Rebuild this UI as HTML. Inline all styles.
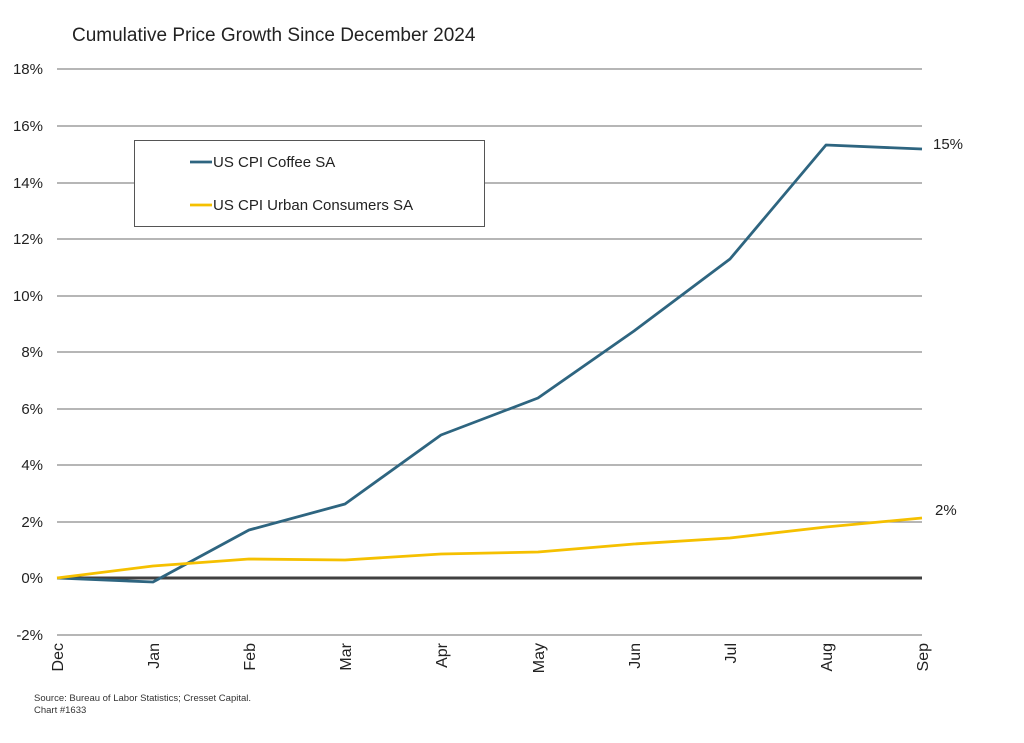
<!DOCTYPE html>
<html><head><meta charset="utf-8"><style>
html,body{margin:0;padding:0;background:#fff;}
svg{display:block;font-family:"Liberation Sans",sans-serif;}
</style></head><body>
<svg width="1024" height="743" viewBox="0 0 1024 743">
<rect width="1024" height="743" fill="#fff"/>
<text x="72" y="41" font-size="19" fill="#222">Cumulative Price Growth Since December 2024</text>
<g stroke="#8a8a8a" stroke-width="1.3">
<line x1="57" x2="922" y1="69" y2="69"/>
<line x1="57" x2="922" y1="126" y2="126"/>
<line x1="57" x2="922" y1="183" y2="183"/>
<line x1="57" x2="922" y1="239" y2="239"/>
<line x1="57" x2="922" y1="296" y2="296"/>
<line x1="57" x2="922" y1="352" y2="352"/>
<line x1="57" x2="922" y1="409" y2="409"/>
<line x1="57" x2="922" y1="465" y2="465"/>
<line x1="57" x2="922" y1="522" y2="522"/>
<line x1="57" x2="922" y1="635" y2="635"/>
</g>
<line x1="57" x2="922" y1="578" y2="578" stroke="#404040" stroke-width="3"/>
<g font-size="15" fill="#222" text-anchor="end">
<text x="43" y="74">18%</text><text x="43" y="131">16%</text><text x="43" y="188">14%</text>
<text x="43" y="244">12%</text><text x="43" y="301">10%</text><text x="43" y="357">8%</text>
<text x="43" y="414">6%</text><text x="43" y="470">4%</text><text x="43" y="527">2%</text>
<text x="43" y="583">0%</text><text x="43" y="640">-2%</text>
</g>
<g font-size="16" fill="#222" text-anchor="end">
<text transform="translate(63,643) rotate(-90)">Dec</text>
<text transform="translate(159,643) rotate(-90)">Jan</text>
<text transform="translate(255,643) rotate(-90)">Feb</text>
<text transform="translate(351,643) rotate(-90)">Mar</text>
<text transform="translate(447,643) rotate(-90)">Apr</text>
<text transform="translate(544,643) rotate(-90)">May</text>
<text transform="translate(640,643) rotate(-90)">Jun</text>
<text transform="translate(736,643) rotate(-90)">Jul</text>
<text transform="translate(832,643) rotate(-90)">Aug</text>
<text transform="translate(928,643) rotate(-90)">Sep</text>
</g>
<polyline fill="none" stroke="#2e6580" stroke-width="2.8" stroke-linejoin="round" points="57,578 153,582 249,530 345,504 441,435 538,398 634,331 730,259 826,145 922,149"/>
<polyline fill="none" stroke="#f5c000" stroke-width="2.8" stroke-linejoin="round" points="57,578 153,566 249,559 345,560 441,554 538,552 634,544 730,538 826,527 922,518"/>
<text x="933" y="149" font-size="15" fill="#222">15%</text>
<text x="935" y="515" font-size="15" fill="#222">2%</text>
<rect x="134.5" y="140.5" width="350" height="86" fill="#fff" stroke="#555" stroke-width="1"/>
<line x1="190" x2="212" y1="162" y2="162" stroke="#2e6580" stroke-width="2.8"/>
<text x="213" y="167" font-size="15" fill="#222">US CPI Coffee SA</text>
<line x1="190" x2="212" y1="205" y2="205" stroke="#f5c000" stroke-width="2.8"/>
<text x="213" y="210" font-size="15" fill="#222">US CPI Urban Consumers SA</text>
<text x="34" y="701" font-size="9.5" fill="#333">Source: Bureau of Labor Statistics; Cresset Capital.</text>
<text x="34" y="713" font-size="9.5" fill="#333">Chart #1633</text>
</svg>
</body></html>
